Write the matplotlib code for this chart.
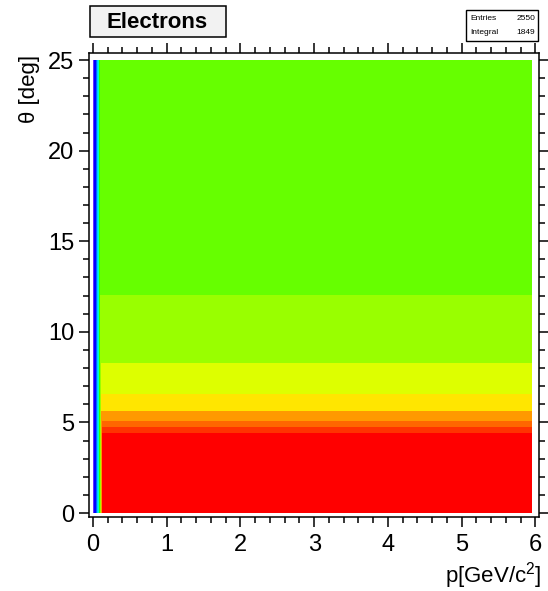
import numpy as np
import matplotlib.pyplot as plt
from matplotlib.colors import ListedColormap, BoundaryNorm
from matplotlib.patches import Rectangle
from matplotlib.ticker import MultipleLocator

plt.rcParams['font.family'] = ['Liberation Sans', 'DejaVu Sans']
plt.rcParams['mathtext.fontset'] = 'custom'
plt.rcParams['mathtext.rm'] = 'Liberation Sans'
plt.rcParams['mathtext.it'] = 'Liberation Sans:italic'

# theta bands [deg] and the contour level reached in each band
theta_edges = [0.0, 4.42, 4.75, 5.08, 5.63, 6.57, 8.28, 12.03, 25.0]
theta_level = [14, 13, 12, 11, 10, 9, 8, 7]

# momentum bins [GeV/c^2]: steep rise at low p, then flat
p_edges = [0.0, 0.02, 0.045, 0.06, 0.07, 0.08, 0.088, 0.095, 0.1,
           0.105, 0.11, 0.113, 0.116, 0.118, 0.12, 5.96]
p_level = [0, 1, 2, 3, 4, 5, 6, 7, 8, 9, 10, 11, 12, 13, 99]

# contour palette (low -> high)
palette = ['#6633FF', '#0000FF', '#0066FF', '#00CCFF', '#00FFCC',
           '#00FF66', '#33FF00', '#66FF00', '#99FF00', '#DDFF00',
           '#FFE600', '#FF9900', '#FF6600', '#FF3300', '#FF0000']

entries = 2550
integral = 1849

Z = np.minimum(np.array(p_level)[None, :], np.array(theta_level)[:, None])

fig = plt.figure(figsize=(5.48, 5.91), dpi=100)
ax = fig.add_axes([89/548, 1-517/591, 450/548, 464/591])

cmap = ListedColormap(palette)
norm = BoundaryNorm(np.arange(-0.5, len(palette)), cmap.N)
ax.pcolormesh(p_edges, theta_edges, Z, cmap=cmap, norm=norm)

ax.set_xlim(-0.054, 6.05)
ax.set_ylim(-0.22, 25.39)
ax.xaxis.set_major_locator(MultipleLocator(1))
ax.xaxis.set_minor_locator(MultipleLocator(0.2))
ax.yaxis.set_major_locator(MultipleLocator(5))
ax.yaxis.set_minor_locator(MultipleLocator(1))
ax.tick_params(which='both', direction='out', top=True, right=True,
               labelsize=17, width=1.1)
ax.tick_params(which='major', length=7.5)
ax.tick_params(which='minor', length=4)
ax.tick_params(axis='x', pad=5)
ax.tick_params(axis='y', pad=3)
for s in ax.spines.values():
    s.set_linewidth(1.1)

fig.text(30/548, 1-55/591, 'θ [deg]', rotation=90, ha='center', va='top',
         fontsize=16)
fig.text(541/548, 1-576/591, r'p[GeV/c$^{2}$]', ha='right', va='center',
         fontsize=16)

# title box
fig.add_artist(Rectangle((90/548, 1-37/591), 136/548, 31/591,
                         transform=fig.transFigure, facecolor='#f2f2f2',
                         edgecolor='black', lw=1.1))
fig.text(157/548, 1-22/591, 'Electrons', ha='center', va='center',
         fontsize=16, fontweight='bold')

# stats box
fig.add_artist(Rectangle((466/548, 1-41/591), 72/548, 31/591,
                         transform=fig.transFigure, facecolor='white',
                         edgecolor='black', lw=1.0))
fig.text(470/548, 1-18/591, 'Entries', ha='left', va='center', fontsize=6)
fig.text(535/548, 1-18/591, str(entries), ha='right', va='center', fontsize=6)
fig.text(470/548, 1-32/591, 'Integral', ha='left', va='center', fontsize=6)
fig.text(535/548, 1-32/591, str(integral), ha='right', va='center', fontsize=6)

fig.savefig('out.png', dpi=100)
